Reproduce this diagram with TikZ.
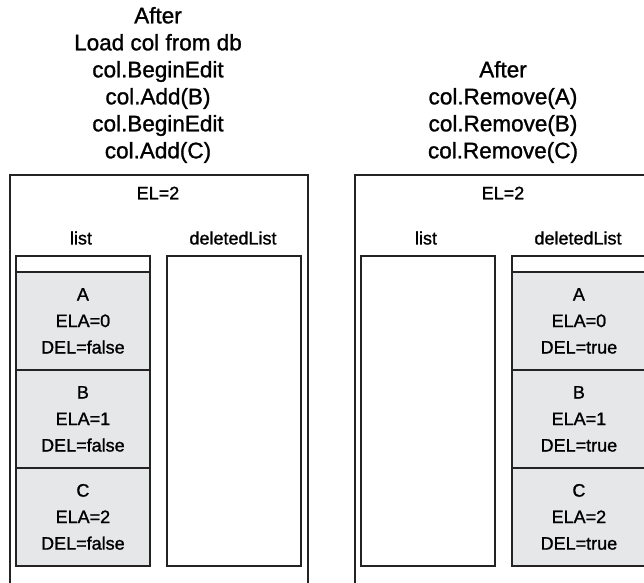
\documentclass[tikz,border=0pt]{standalone}
\usepackage{fontspec}
\setmainfont{Liberation Sans}[FakeBold=1.2]
\definecolor{linec}{RGB}{35,35,35}
\definecolor{cellg}{RGB}{230,231,233}
\begin{document}
\begin{tikzpicture}[x=1pt,y=-1pt,
  box/.style={draw=linec, line width=1.8pt, inner sep=0pt, anchor=north west},
  cellbox/.style={box, fill=cellg, minimum width=134pt, minimum height=98pt,
    align=center, font=\fontsize{18}{26.5}\selectfont},
  stripbox/.style={box, fill=white, minimum width=134pt, minimum height=16pt},
  colbox/.style={box, minimum width=134pt, minimum height=310pt},
  outerbox/.style={box, minimum width=298pt, minimum height=420pt},
  lab/.style={font=\fontsize{18}{22}\selectfont, inner sep=0pt},
  head/.style={font=\fontsize{22.5}{27}\selectfont, align=center, inner sep=0pt}]
\useasboundingbox (0,0) rectangle (644,582);
\clip (0,0) rectangle (644,582);

% ---------- left panel ----------
\node[head] (headL) at (158,85) {After\\Load col from db\\col.BeginEdit\\col.Add(B)\\col.BeginEdit\\col.Add(C)};
\node[outerbox] (outerL) at (9,174) {};
\node[lab] (elL) at (158,193) {EL=2};
\node[lab] (listlabL) at (81,238) {list};
\node[lab] (dellabL) at (233,238) {deletedList};
\node[colbox] (listL) at (15,255) {};
\node[stripbox] (stripL) at (15,255) {};
\node[cellbox] (aL) at (15,271) {A\\ELA=0\\DEL=false};
\node[cellbox] (bL) at (15,369) {B\\ELA=1\\DEL=false};
\node[cellbox] (cL) at (15,467) {C\\ELA=2\\DEL=false};
\node[colbox] (delL) at (166,255) {};

% ---------- right panel ----------
\node[head] (headR) at (503,112) {After\\col.Remove(A)\\col.Remove(B)\\col.Remove(C)};
\node[outerbox] (outerR) at (354,174) {};
\node[lab] (elR) at (503,193) {EL=2};
\node[lab] (listlabR) at (426,238) {list};
\node[lab] (dellabR) at (578,238) {deletedList};
\node[colbox] (listR) at (360,255) {};
\node[colbox] (delR) at (511,255) {};
\node[stripbox] (stripR) at (511,255) {};
\node[cellbox] (aR) at (511,271) {A\\ELA=0\\DEL=true};
\node[cellbox] (bR) at (511,369) {B\\ELA=1\\DEL=true};
\node[cellbox] (cR) at (511,467) {C\\ELA=2\\DEL=true};
\end{tikzpicture}
\end{document}
